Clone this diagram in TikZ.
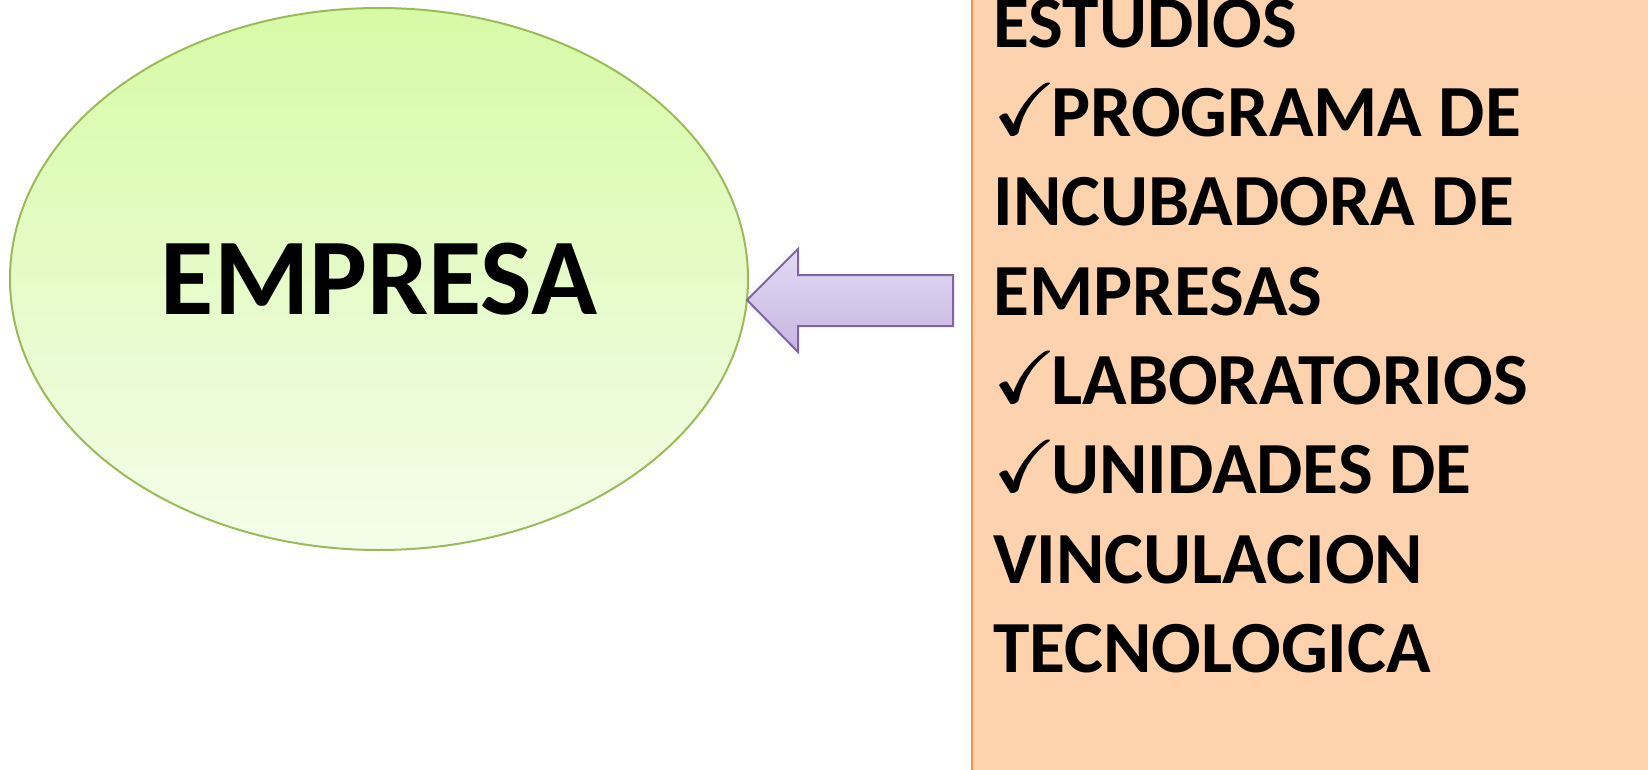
\documentclass[tikz,border=0pt]{standalone}
\usepackage{fontspec}
\setmainfont{Carlito}
\usepackage{amssymb}
\usetikzlibrary{shapes}
\newcommand{\marca}{\rlap{$\checkmark$}\rlap{\hspace{0.5pt}$\checkmark$}\hspace{1pt}$\checkmark$}
\newcommand{\chk}{\makebox[29pt][l]{\raisebox{1pt}{\marca}}}

\begin{document}
\begin{tikzpicture}[x=0.5pt,y=-0.5pt,
	elipse/.style={ellipse,draw=verdeborde,line width=1pt,top color=verdearriba,bottom color=verdeabajo,minimum width=369pt,minimum height=271pt,inner sep=0pt,font=\fontsize{54.5}{60}\selectfont\bfseries},
	flecha/.style={draw=moradoborde,line width=1pt,top color=moradoarriba,bottom color=moradoabajo,line join=miter},
	lista/.style={anchor=base west,inner sep=0pt,font=\fontsize{36.75}{44.65}\selectfont\bfseries}]
	\definecolor{verdeborde}{HTML}{9BBB59}
	\definecolor{verdearriba}{HTML}{D7FAA6}
	\definecolor{verdeabajo}{HTML}{F4FDEA}
	\definecolor{moradoborde}{HTML}{8064A2}
	\definecolor{moradoarriba}{HTML}{E4DAF3}
	\definecolor{moradoabajo}{HTML}{C7B5E3}
	\definecolor{naranja}{HTML}{F79646}
	\definecolor{cajaarriba}{HTML}{FDD3AF}
	\definecolor{cajamedio}{HTML}{FBBD88}
	\definecolor{cajaabajo}{HTML}{FDD2AD}
	
	\useasboundingbox (0,0) rectangle (1648,770);
	\clip (0,0) rectangle (1648,770);
	\fill[white] (0,0) rectangle (1648,770);
	
	% caja de la derecha
	\shade[top color=cajaarriba,middle color=cajamedio,bottom color=cajaabajo] (972,-150) rectangle (1700,800);
	\draw[line width=1.3pt,naranja] (972,-150) -- (972,800);
	
	% elipse
	\node[elipse] (emp) at (379,279) {EMPRESA};
	
	% flecha
	\coordinate (punta) at (747,300);
	\draw[flecha] (punta) -- ++(51,-51) -- ++(0,26) -- ++(155,0) -- ++(0,51) -- ++(-155,0) -- ++(0,26) -- cycle;
	
	% texto
	\foreach \t [count=\i] in {{ESTUDIOS},{\chk PROGRAMA DE},{INCUBADORA DE},{EMPRESAS},{\chk LABORATORIOS},{\chk UNIDADES DE},{VINCULACION},{TECNOLOGICA}}
		\node[lista] (l\i) at (993,{47.3+89.3*(\i-1)}) {\t};
\end{tikzpicture}
\end{document}
